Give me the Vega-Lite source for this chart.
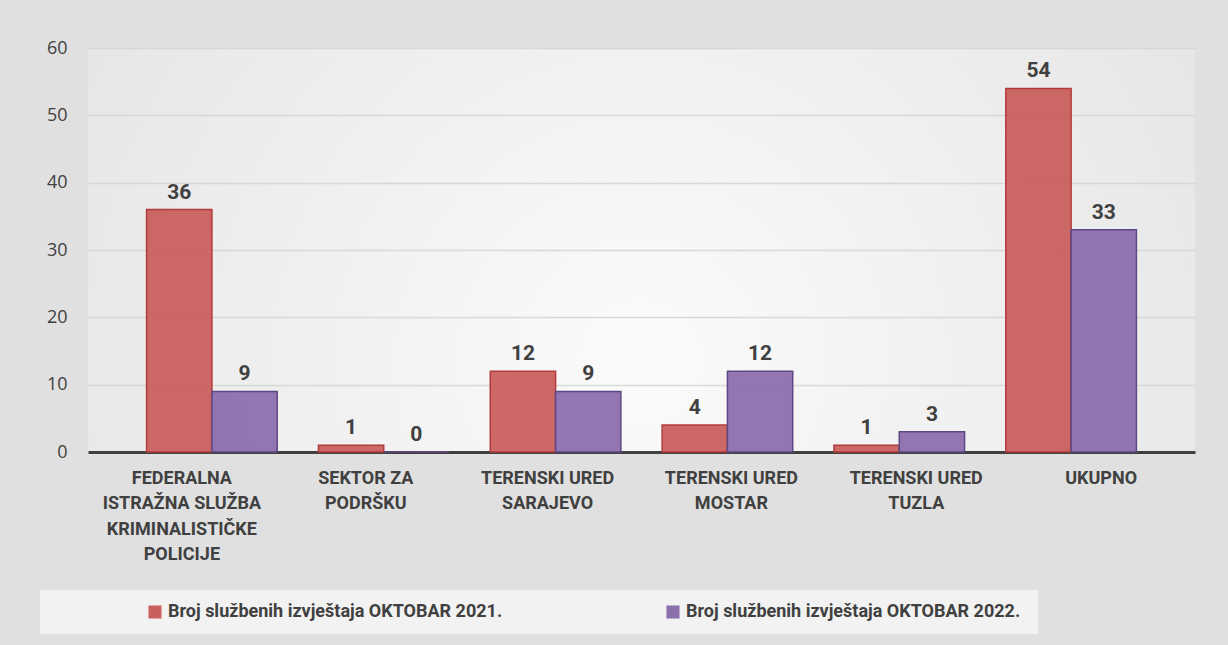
{
  "$schema": "https://vega.github.io/schema/vega-lite/v6.json",
  "autosize": "none",
  "width": 1107,
  "height": 404,
  "padding": {"left": 88, "top": 48, "right": 33, "bottom": 193},
  "background": "#e0e0e0",
  "view": {"stroke": null, "fill": {"gradient": "radial", "x1": 0.5, "y1": 0.6, "x2": 0.5, "y2": 0.6, "r1": 0, "r2": 0.75, "stops": [{"offset": 0, "color": "#fbfbfb"}, {"offset": 1, "color": "#e0e0e0"}]}},
  "config": {
    "font": "Roboto",
    "axis": {"labelColor": "#404040", "labelFont": "Roboto"}
  },
  "data": {
    "values": [
      {"kategorija": "FEDERALNA|ISTRAŽNA SLUŽBA|KRIMINALISTIČKE|POLICIJE", "serija": "Broj službenih izvještaja OKTOBAR 2021.", "broj": 36},
      {"kategorija": "FEDERALNA|ISTRAŽNA SLUŽBA|KRIMINALISTIČKE|POLICIJE", "serija": "Broj službenih izvještaja OKTOBAR  2022.", "broj": 9},
      {"kategorija": "SEKTOR ZA|PODRŠKU", "serija": "Broj službenih izvještaja OKTOBAR 2021.", "broj": 1},
      {"kategorija": "SEKTOR ZA|PODRŠKU", "serija": "Broj službenih izvještaja OKTOBAR  2022.", "broj": 0},
      {"kategorija": "TERENSKI URED|SARAJEVO", "serija": "Broj službenih izvještaja OKTOBAR 2021.", "broj": 12},
      {"kategorija": "TERENSKI URED|SARAJEVO", "serija": "Broj službenih izvještaja OKTOBAR  2022.", "broj": 9},
      {"kategorija": "TERENSKI URED|MOSTAR", "serija": "Broj službenih izvještaja OKTOBAR 2021.", "broj": 4},
      {"kategorija": "TERENSKI URED|MOSTAR", "serija": "Broj službenih izvještaja OKTOBAR  2022.", "broj": 12},
      {"kategorija": "TERENSKI URED|TUZLA", "serija": "Broj službenih izvještaja OKTOBAR 2021.", "broj": 1},
      {"kategorija": "TERENSKI URED|TUZLA", "serija": "Broj službenih izvještaja OKTOBAR  2022.", "broj": 3},
      {"kategorija": "UKUPNO", "serija": "Broj službenih izvještaja OKTOBAR 2021.", "broj": 54},
      {"kategorija": "UKUPNO", "serija": "Broj službenih izvještaja OKTOBAR  2022.", "broj": 33}
    ]
  },
  "encoding": {
    "x": {
      "field": "kategorija", "type": "nominal", "sort": null,
      "scale": {"paddingInner": 0.24, "paddingOuter": 0.341},
      "axis": {
        "title": null, "labelAngle": 0, "ticks": false,
        "domainColor": "#404040", "domainWidth": 3,
        "labelExpr": "split(datum.value, '|')",
        "labelFontSize": 18, "labelFontWeight": "bold", "labelLineHeight": 25.5,
        "labelPadding": 17, "labelBaseline": "top",
        "labelOffset": {
          "condition": [
            {"test": "indexof(datum.value, 'FEDERALNA') >= 0", "value": -30},
            {"test": "indexof(datum.value, 'SEKTOR') >= 0", "value": -18},
            {"test": "indexof(datum.value, 'SARAJEVO') >= 0", "value": -8},
            {"test": "indexof(datum.value, 'MOSTAR') >= 0", "value": 4},
            {"test": "indexof(datum.value, 'TUZLA') >= 0", "value": 17}
          ],
          "value": 30
        }
      }
    },
    "xOffset": {"field": "serija", "type": "nominal", "sort": ["Broj službenih izvještaja OKTOBAR 2021.", "Broj službenih izvještaja OKTOBAR  2022."]},
    "y": {
      "field": "broj", "type": "quantitative",
      "scale": {"domain": [0, 60], "nice": false},
      "axis": {
        "title": null, "values": [0, 10, 20, 30, 40, 50, 60],
        "domain": false, "ticks": false, "labelPadding": 21,
        "labelFontSize": 18, "labelFont": "Open Sans",
        "gridColor": "#d2d2d2", "gridWidth": 1.5, "gridOpacity": 0.8
      }
    }
  },
  "layer": [
    {
      "mark": {"type": "bar", "strokeWidth": 1.5, "fillOpacity": 0.95},
      "encoding": {
        "fill": {
          "field": "serija", "type": "nominal",
          "sort": ["Broj službenih izvještaja OKTOBAR 2021.", "Broj službenih izvještaja OKTOBAR  2022."],
          "scale": {"range": ["#C9605E", "#8C6FAD"]},
          "legend": {
            "title": "\u00a0\u00a0\u00a0\u00a0\u00a0\u00a0\u00a0\u00a0\u00a0\u00a0\u00a0\u00a0\u00a0\u00a0\u00a0\u00a0\u00a0\u00a0\u00a0\u00a0\u00a0\u00a0\u00a0\u00a0\u00a0\u00a0\u00a0\u00a0\u00a0\u00a0\u00a0\u00a0\u00a0\u00a0",
            "titleOrient": "right", "titleFontSize": 18, "titlePadding": 0,
            "orient": "none", "direction": "horizontal",
            "legendX": -48, "legendY": 542,
            "symbolType": "square", "symbolSize": 170, "symbolStrokeWidth": 0,
            "symbolOffset": 93,
            "labelFontSize": 18, "labelFontWeight": "bold", "labelColor": "#404040",
            "labelFont": "Roboto", "labelOffset": 4, "labelLimit": 600,
            "columnPadding": 68, "padding": 13,
            "fillColor": "#f2f2f2"
          }
        },
        "stroke": {
          "field": "serija", "type": "nominal",
          "sort": ["Broj službenih izvještaja OKTOBAR 2021.", "Broj službenih izvještaja OKTOBAR  2022."],
          "scale": {"range": ["#B23A3A", "#5E4784"]},
          "legend": null
        }
      }
    },
    {
      "mark": {"type": "text", "dy": -17, "fontSize": 21, "fontWeight": "bold", "color": "#404040", "font": "Roboto"},
      "encoding": {"text": {"field": "broj", "type": "quantitative"}}
    }
  ]
}
